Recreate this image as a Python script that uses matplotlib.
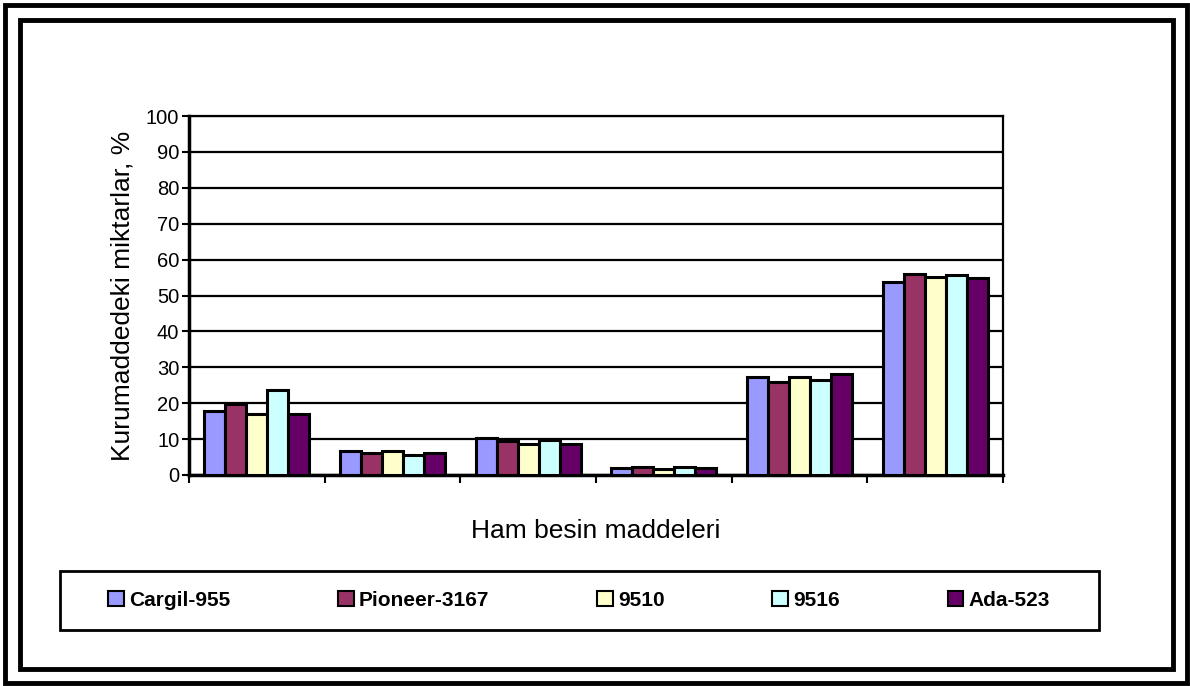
import numpy as np
import matplotlib
matplotlib.use('Agg')
import matplotlib.pyplot as plt
from matplotlib.patches import Rectangle

plt.rcParams['font.family'] = ['Liberation Sans', 'DejaVu Sans']

# six nutrient groups (no tick labels on the original chart)
categories = ['', '', '', '', '', '']
varieties = ['Cargil-955', 'Pioneer-3167', '9510', '9516', 'Ada-523']
colors = ['#9999FF', '#993366', '#FFFFCC', '#CCFFFF', '#660066']

cargil = [17.9, 6.8, 10.3, 1.9, 27.2, 53.8]
pioneer = [19.8, 6.0, 9.6, 2.1, 25.8, 56.1]
v9510 = [16.9, 6.6, 8.7, 1.6, 27.4, 55.2]
v9516 = [23.7, 5.7, 9.7, 2.1, 26.5, 55.8]
ada = [17.1, 6.2, 8.7, 1.9, 28.0, 54.9]
series = [cargil, pioneer, v9510, v9516, ada]

W, H = 1190, 686
fig = plt.figure(figsize=(W / 100, H / 100), dpi=100)
ax = fig.add_axes([189 / W, 1 - 475 / H, 814 / W, 359 / H])

x = np.arange(len(categories))
w = 0.155
for i, vals in enumerate(series):
    ax.bar(x + (i - 2) * w, vals, width=w, color=colors[i], edgecolor='black',
           linewidth=2.2, label=varieties[i], zorder=3)

ax.set_ylim(0, 100)
ax.set_xlim(-0.5, len(categories) - 0.5)
ax.set_yticks(range(0, 101, 10))
ax.set_xticks(np.arange(-0.5, len(categories), 1.0))
ax.set_xticklabels([])
ax.tick_params(axis='y', labelsize=14.5, length=5, width=1.5, direction='out', pad=2)
ax.tick_params(axis='x', length=6, width=1.5, direction='out')
ax.yaxis.grid(True, color='black', linewidth=1.6, zorder=0)
ax.set_axisbelow(True)
for side in ['top', 'right']:
    ax.spines[side].set_linewidth(1.6)
for side in ['left', 'bottom']:
    ax.spines[side].set_linewidth(2.5)

ax.set_ylabel('Kurumaddedeki miktarlar, %', fontsize=19, labelpad=8)
ax.set_xlabel('Ham besin maddeleri', fontsize=19, labelpad=22)

# legend box drawn separately, entries spread inside it
fig.add_artist(Rectangle((60 / W, 1 - 630 / H), 1039 / W, 59 / H, transform=fig.transFigure,
                         fill=False, edgecolor='black', linewidth=2))
leg = fig.legend(loc='center left', bbox_to_anchor=(108 / W, 1 - 630 / H, 942 / W, 59 / H),
                 ncol=5, mode='expand', frameon=False,
                 prop={'weight': 'bold', 'size': 15}, handlelength=0.75, handleheight=0.75,
                 handletextpad=0.25, borderaxespad=0, borderpad=0)
for h in leg.legend_handles:
    h.set_linewidth(1.5)

# double border around the chart
fig.add_artist(Rectangle((5 / W, 3 / H), 1182 / W, 678 / H, transform=fig.transFigure,
                         fill=False, edgecolor='black', linewidth=3.5))
fig.add_artist(Rectangle((20 / W, 17 / H), 1153 / W, 649 / H, transform=fig.transFigure,
                         fill=False, edgecolor='black', linewidth=3.5))

fig.savefig('out.png', dpi=100)
